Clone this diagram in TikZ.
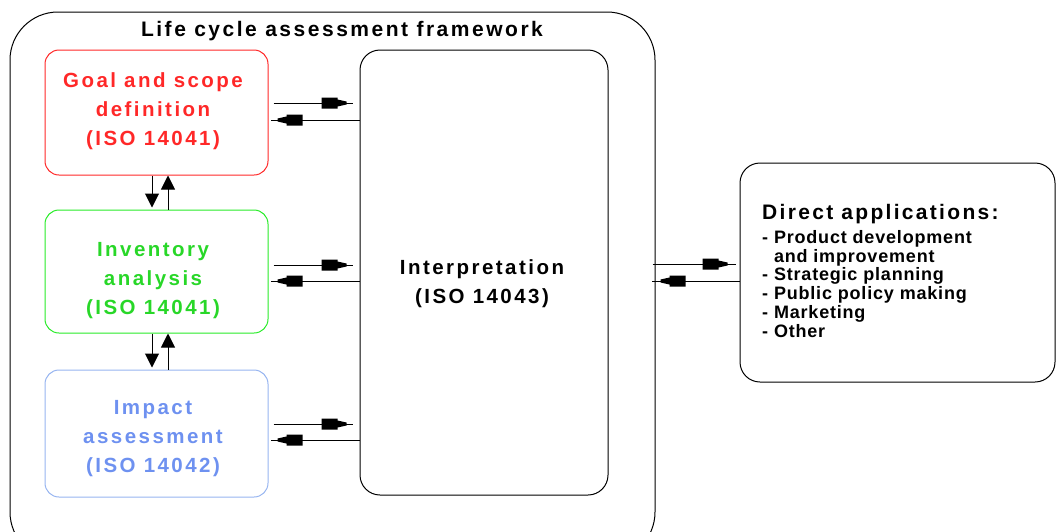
\documentclass[tikz,border=0pt]{standalone}
\usepackage{fontspec}
\setmainfont{Liberation Sans}
\usetikzlibrary{arrows.meta,decorations.markings}
\definecolor{lcared}{RGB}{255,40,40}
\definecolor{lcagreen}{RGB}{40,235,40}
\definecolor{lcagreentext}{RGB}{40,215,40}
\definecolor{lcablue}{RGB}{150,180,240}
\definecolor{lcabluetext}{RGB}{110,145,240}
\tikzset{
  box/.style={draw, line width=1pt, rounded corners=14pt, inner sep=0pt},
  boxtext/.style={align=center, font=\fontsize{20.5}{29}\selectfont\bfseries\addfontfeature{LetterSpace=12}},
  link/.style={line width=1pt, decoration={markings, mark=at position #1 with {\fill (0,-1.5) -- (-9,-3.5) -- (-9,-5.5) -- (-25,-5.5) -- (-25,5.5) -- (-9,5.5) -- (-9,3.5) -- (0,1.5) -- cycle;}}, postaction={decorate}},
  vlink/.style={line width=1pt, -{Triangle[length=14pt,width=14pt]}}
}
\begin{document}
\begin{tikzpicture}[x=1pt,y=-1pt]
\useasboundingbox (0,0) rectangle (1057,531);
\clip (0,0) rectangle (1057,531);
% outer frame
\draw[line width=1pt, rounded corners=48pt] (10,12) rectangle (655,560);
\node[font=\fontsize{21}{26}\selectfont\bfseries\addfontfeature{LetterSpace=12}] (title) at (342,31) {Life cycle assessment framework};
% boxes
\node[box, draw=lcared, minimum width=223pt, minimum height=125pt] (goal) at (156.5,112.5) {};
\node[box, draw=lcagreen, minimum width=223pt, minimum height=123pt] (inv) at (156.5,271.5) {};
\node[box, draw=lcablue, minimum width=223pt, minimum height=127pt] (imp) at (156.5,433.5) {};
\node[box, rounded corners=20pt, minimum width=248pt, minimum height=445pt] (interp) at (484,272.5) {};
\node[box, rounded corners=20pt, minimum width=315pt, minimum height=219pt] (apps) at (897.5,272.5) {};
% texts
\node[boxtext, text=lcared] (goalt) at (153,111) {Goal and scope\\definition\\(ISO 14041)};
\node[boxtext, text=lcagreentext] (invt) at (153,281) {Inventory\\analysis\\(ISO 14041)};
\node[boxtext, text=lcabluetext] (impt) at (153,439) {Impact\\assessment\\(ISO 14042)};
\node[boxtext] (interpt) at (482,284) {Interpretation\\(ISO 14043)};
\node[anchor=north west, align=left, inner sep=0pt, font=\fontsize{18}{18.8}\selectfont\bfseries\addfontfeature{LetterSpace=4.5}] (appst) at (762,204)
  {{\fontsize{21}{22}\selectfont\addfontfeature{LetterSpace=11}Direct applications:}\\[5pt]
   - Product development\\
   \hphantom{- }and improvement\\
   - Strategic planning\\
   - Public policy making\\
   - Marketing\\
   - Other};
% horizontal links
\draw[link=-13pt, shorten <=5pt, shorten >=7pt] (goal.east |- 0,103) -- (interp.west |- 0,103);
\draw[link=-9pt, shorten >=2pt] (interp.west |- 0,120) -- (goal.east |- 0,120);
\draw[link=-13pt, shorten <=5pt, shorten >=7pt] (inv.east |- 0,265) -- (interp.west |- 0,265);
\draw[link=-9pt, shorten >=2pt] (interp.west |- 0,281) -- (inv.east |- 0,281);
\draw[link=-13pt, shorten <=5pt, shorten >=7pt] (imp.east |- 0,424) -- (interp.west |- 0,424);
\draw[link=-9pt, shorten >=2pt] (interp.west |- 0,440) -- (imp.east |- 0,440);
\draw[link=-12pt, shorten <=44pt, shorten >=4pt] (interp.east |- 0,264) -- (apps.west |- 0,264);
\draw[link=-52pt, shorten >=43pt] (apps.west |- 0,281) -- (interp.east |- 0,281);
% vertical links
\draw[vlink, shorten >=2pt] (goal.south -| 152,0) -- (inv.north -| 152,0);
\draw[vlink] (inv.north -| 168,0) -- (goal.south -| 168,0);
\draw[vlink, shorten >=2pt] (inv.south -| 152,0) -- (imp.north -| 152,0);
\draw[vlink] (imp.north -| 168,0) -- (inv.south -| 168,0);
\end{tikzpicture}
\end{document}
